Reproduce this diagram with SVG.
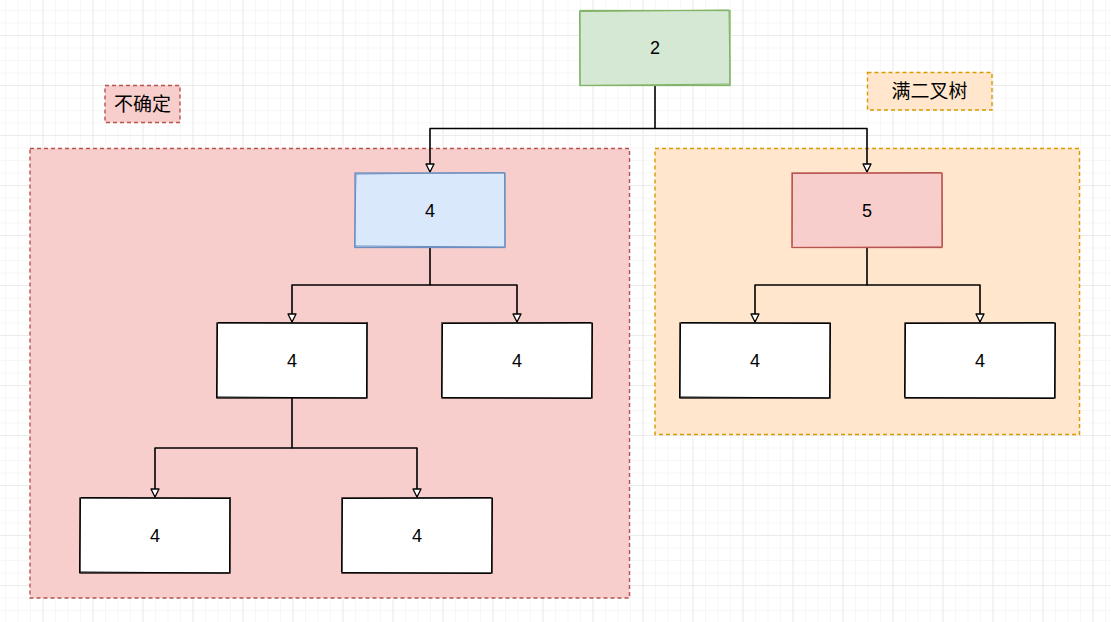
<svg xmlns="http://www.w3.org/2000/svg" width="1111" height="622" viewBox="0 0 1111 622">
  <defs>
    <pattern id="minor" x="42.5" y="35" width="12.5" height="12.5" patternUnits="userSpaceOnUse">
      <path d="M0 0H12.5M0 0V12.5" fill="none" stroke="#f0f0f0" stroke-width="1"/>
    </pattern>
    <pattern id="major" x="42.5" y="35" width="50" height="50" patternUnits="userSpaceOnUse">
      <path d="M0 0H50M0 0V50" fill="none" stroke="#e0e0e0" stroke-width="1"/>
    </pattern>
    <marker id="arr" viewBox="0 0 10 10" refX="9" refY="5" markerWidth="10" markerHeight="10" markerUnits="userSpaceOnUse" orient="auto">
      <path d="M1 1L9 5L1 9Z" fill="#ffffff" stroke="#000000" stroke-width="1.3" stroke-linejoin="round"/>
    </marker>
  </defs>
  <style>
    .txt { font-family: "Liberation Sans", Arial, sans-serif; font-size: 18px; fill: #000000; text-anchor: middle; dominant-baseline: central; }
    .cjk { font-family: "Liberation Sans", "Noto Sans CJK SC", sans-serif; font-size: 19px; fill: #000000; text-anchor: middle; dominant-baseline: central; }
    .edge { fill: none; stroke: #000000; stroke-width: 1.6; stroke-linejoin: round; }
    .white { fill: #ffffff; stroke: #000000; stroke-width: 1.3; }
    .sk { fill: none; stroke-width: 1; }
    .dash { stroke-width: 1.4; stroke-dasharray: 4 3; }
  </style>
  <rect width="1111" height="622" fill="#ffffff"/>
  <rect width="1111" height="622" fill="url(#minor)"/>
  <rect width="1111" height="622" fill="url(#major)"/>

  <g id="container-uncertain">
    <rect class="dash" x="30" y="148.5" width="599.5" height="449.5" fill="#f8cecc" stroke="#b85450"/>
  </g>
  <g id="container-full">
    <rect class="dash" x="655" y="148.5" width="424.5" height="286" fill="#ffe6cc" stroke="#d79b00"/>
  </g>
  <g id="label-uncertain">
    <rect class="dash" x="105" y="85.5" width="75" height="37" fill="#f8cecc" stroke="#b85450"/>
    <text class="cjk" x="142.5" y="104">不确定</text>
  </g>
  <g id="label-full">
    <rect class="dash" x="867.5" y="72.5" width="124.5" height="37.5" fill="#ffe6cc" stroke="#d79b00"/>
    <text class="cjk" x="929.5" y="91.5">满二叉树</text>
  </g>

  <g id="connectors">
    <path class="edge" d="M655 86V128.5H430V172" marker-end="url(#arr)"/>
    <path class="edge" d="M655 128.5H867V172" marker-end="url(#arr)"/>
    <path class="edge" d="M430 247V285H292V322" marker-end="url(#arr)"/>
    <path class="edge" d="M430 285H517V322" marker-end="url(#arr)"/>
    <path class="edge" d="M867 247V285H755V322" marker-end="url(#arr)"/>
    <path class="edge" d="M867 285H980V322" marker-end="url(#arr)"/>
    <path class="edge" d="M292 398V448H155V497" marker-end="url(#arr)"/>
    <path class="edge" d="M292 448H417V497" marker-end="url(#arr)"/>
  </g>

  <g id="node-root">
    <rect x="580" y="10.5" width="150" height="75" fill="#d5e8d4" stroke="#82b366" stroke-width="1.3"/>
    <path class="sk" stroke="#82b366" d="M581 11.5L729 10M729 10.5L730 84.5M730 84L580.5 85.5M580 86L579.5 11"/>
    <text class="txt" x="655" y="48">2</text>
  </g>
  <g id="node-blue">
    <rect x="355" y="173" width="150" height="74.5" fill="#dae8fc" stroke="#6c8ebf" stroke-width="1.3"/>
    <path class="sk" stroke="#6c8ebf" d="M356 174L504 172.5M504.5 173L505 246M505 247L355 246M354.5 247.5L356 173.5"/>
    <text class="txt" x="430" y="211">4</text>
  </g>
  <g id="node-red">
    <rect x="792" y="173" width="150" height="74.5" fill="#f8cecc" stroke="#b85450" stroke-width="1.3"/>
    <path class="sk" stroke="#b85450" d="M793 173.5L941 172.5M942 173.5L942.5 246.5M941.5 247L791.5 247.5M792 246L792.5 173"/>
    <text class="txt" x="867" y="211">5</text>
  </g>
  <g id="node-l1">
    <rect class="white" x="217" y="323" width="150" height="75"/>
    <path class="sk" stroke="#000000" d="M218 322.5L366 323.5M367 322L366.5 397.5M366 398L217.5 397M216.5 398L217.5 324"/>
    <text class="txt" x="292" y="361">4</text>
  </g>
  <g id="node-r1">
    <rect class="white" x="442" y="323" width="150" height="75"/>
    <path class="sk" stroke="#000000" d="M443 323.5L591 322.5M592.5 323L591.5 397.5M591 398.5L442.5 397.5M441.5 397L442.5 324"/>
    <text class="txt" x="517" y="361">4</text>
  </g>
  <g id="node-f1">
    <rect class="white" x="680" y="323" width="150" height="75"/>
    <path class="sk" stroke="#000000" d="M681 322.5L829 323.5M830.5 323L829.5 397.5M829 398L680.5 397M679.5 398L680.5 324"/>
    <text class="txt" x="755" y="361">4</text>
  </g>
  <g id="node-f2">
    <rect class="white" x="905" y="323" width="150" height="75"/>
    <path class="sk" stroke="#000000" d="M906 323.5L1054 322.5M1055.5 323L1054.5 397.5M1054 398.5L905.5 397.5M904.5 397L905.5 324"/>
    <text class="txt" x="980" y="361">4</text>
  </g>
  <g id="node-ll">
    <rect class="white" x="80" y="498" width="150" height="75"/>
    <path class="sk" stroke="#000000" d="M81 497.5L229 498.5M230 497L229.5 572.5M229 573L80.5 572M79.5 573L80.5 499"/>
    <text class="txt" x="155" y="536">4</text>
  </g>
  <g id="node-lr">
    <rect class="white" x="342" y="498" width="150" height="75"/>
    <path class="sk" stroke="#000000" d="M343 498.5L491 497.5M492.5 498L491.5 572.5M491 573.5L342.5 572.5M341.5 572L342.5 499"/>
    <text class="txt" x="417" y="536">4</text>
  </g>
</svg>
